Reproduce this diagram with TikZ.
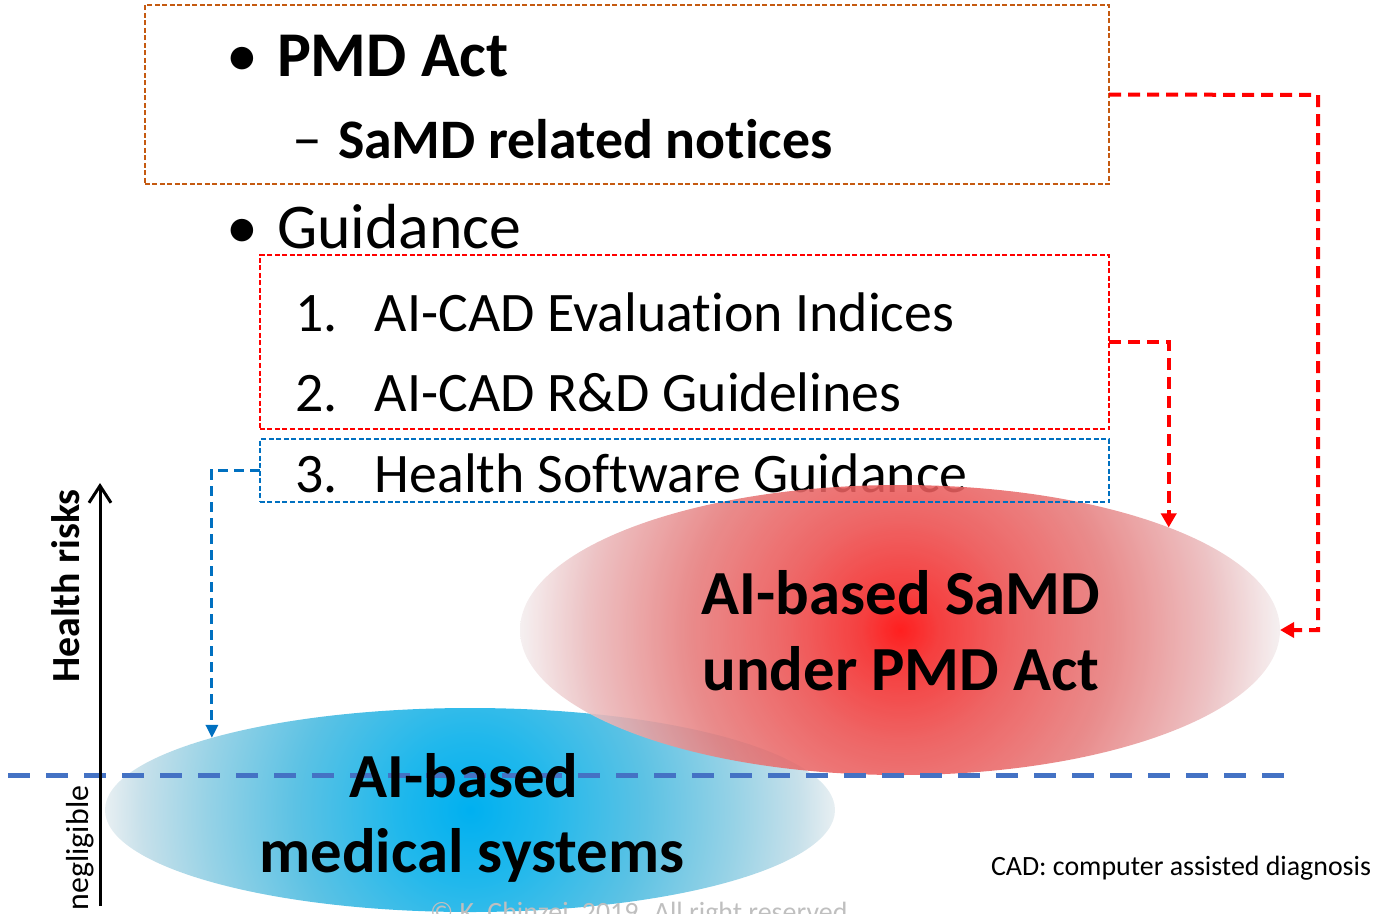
\documentclass[tikz,border=0pt]{standalone}
\usepackage{fontspec}
\setmainfont{Carlito}[Ligatures=NoCommon]
\usetikzlibrary{arrows.meta,shapes.geometric}

\definecolor{actorange}{HTML}{C55A11}
\definecolor{swblue}{HTML}{0070C0}
\definecolor{threshblue}{HTML}{4472C4}
\definecolor{notegray}{HTML}{BFBFBF}
% glow colours of the two risk regions
\definecolor{samdA}{HTML}{FF0000}
\definecolor{samdB}{HTML}{F42424}
\definecolor{samdC}{HTML}{EC5050}
\definecolor{samdD}{HTML}{E67C7C}
\definecolor{samdE}{HTML}{EAB8BA}
\definecolor{samdF}{HTML}{F4EEEF}
\definecolor{medA}{HTML}{00B0F0}
\definecolor{medB}{HTML}{20B8EC}
\definecolor{medC}{HTML}{5CC2E4}
\definecolor{medD}{HTML}{96D2E6}
\definecolor{medE}{HTML}{C6E0EA}
\definecolor{medF}{HTML}{E8EFF2}

% the circle edge sits at 25bp
\pgfdeclareradialshading{samdglow}{\pgfpoint{0bp}{0bp}}{%
  color(0bp)=(samdA); color(2.5bp)=(samdB); color(7.5bp)=(samdC);
  color(14bp)=(samdD); color(20.5bp)=(samdE); color(25bp)=(samdF);
  color(50bp)=(samdF)}
\pgfdeclareradialshading{medglow}{\pgfpoint{0bp}{0bp}}{%
  color(0bp)=(medA); color(5bp)=(medB); color(12bp)=(medC);
  color(18bp)=(medD); color(22.5bp)=(medE); color(25bp)=(medF);
  color(50bp)=(medF)}

\begin{document}
\begin{tikzpicture}[x=1bp,y=-1bp,
  every node/.style={inner sep=0pt,outer sep=0pt},
  lvlone/.style={anchor=base west,font=\fontsize{64}{76}\selectfont},
  lvltwo/.style={anchor=base west,font=\fontsize{56}{67}\selectfont\bfseries},
  guideitem/.style={anchor=base west,font=\fontsize{56}{67}\selectfont},
  region/.style={anchor=base,font=\fontsize{63}{75}\selectfont\bfseries},
  frame/.style={draw,rectangle,line width=1.5bp,dash pattern=on 5bp off 2.5bp},
  link/.style={red,line width=4bp,dash pattern=on 12bp off 7bp,
    -{Triangle[length=14bp,width=15bp]}},
  swlink/.style={swblue,line width=3bp,dash pattern=on 10bp off 6bp,
    -{Triangle[length=13bp,width=12bp]}}]
  \useasboundingbox (0,0) rectangle (1377,913);

  % blue region: AI based medical systems
  \node[ellipse,minimum width=730bp,minimum height=204bp,
    path picture={\shade[shading=medglow]
      (path picture bounding box.center) circle[radius=365bp];}]
    (medical) at (470,810) {};

  % bullet list
  \node[lvlone] (actdot) at (226,76) {•};
  \node[lvlone,font=\fontsize{64}{76}\selectfont\bfseries] (act) at (277,76) {PMD Act};
  \node[lvltwo,font=\fontsize{60}{67}\selectfont] (noticedash) at (292,158) {–};
  \node[lvltwo] (notices) at (338,158) {SaMD related notices};
  \node[lvlone] (guidedot) at (226,248) {•};
  \node[lvlone] (guidance) at (277,248) {Guidance};
  \node[guideitem] (indices) at (295,331) {\makebox[80bp][l]{1.}AI-CAD Evaluation Indices};
  \node[guideitem] (rnd) at (295,411) {\makebox[80bp][l]{2.}AI-CAD R\&D Guidelines};
  \node[guideitem] (hsw) at (295,492) {\makebox[80bp][l]{3.}Health Software Guidance};

  % red region: AI based SaMD
  \node[ellipse,minimum width=760bp,minimum height=290bp,
    path picture={\shade[shading=samdglow,fill opacity=.88]
      (path picture bounding box.center) circle[radius=380bp];}]
    (samd) at (900,630) {};

  % frames round the regulations
  \node[frame,actorange,minimum width=964bp,minimum height=179bp] (actbox) at (627,94.5) {};
  \node[frame,red,minimum width=849bp,minimum height=174bp] (guidebox) at (684.5,342) {};
  \node[frame,swblue,minimum width=849bp,minimum height=63bp] (swbox) at (684.5,470.5) {};

  % what applies to what
  \coordinate (actbend) at (1318,95);
  \draw[link] (actbox.east) -- (actbend) |- (samd.east);
  \draw[link] (guidebox.east) -| (samd.north east);
  \draw[swlink] (swbox.west) -| (medical.north west);

  % risk axis and threshold
  \coordinate (threshl) at (8,775);
  \coordinate (threshr) at (1290,775);
  \draw[threshblue,line width=5bp,dash pattern=on 22bp off 16bp] (threshl) -- (threshr);
  \coordinate (risklow) at (100,906);
  \coordinate (riskhigh) at (100,483);
  \draw[line width=3bp,-{Straight Barb[length=17bp,width=22bp]}] (risklow) -- (riskhigh);
  \node[rotate=90,anchor=base,font=\fontsize{40}{48}\selectfont\bfseries]
    (risklabel) at (79,586) {Health risks};
  \node[rotate=90,anchor=base,font=\fontsize{32}{38}\selectfont]
    (negllabel) at (88,848) {negligible};

  % region labels
  \node[region] (samdtop) at (901,614) {AI-based SaMD};
  \node[region] (samdbot) at (901,690) {under PMD Act};
  \node[region] (medtop) at (464,797) {AI-based};
  \node[region] (medbot) at (472,872) {medical systems};

  \node[anchor=base west,font=\fontsize{28}{34}\selectfont] (cadnote) at (991,875)
    {CAD: computer assisted diagnosis};
  \node[anchor=base west,notegray,font=\fontsize{28}{34}\selectfont] (copyline) at (430,921)
    {© K. Chinzei, 2019. All right reserved};
\end{tikzpicture}
\end{document}
